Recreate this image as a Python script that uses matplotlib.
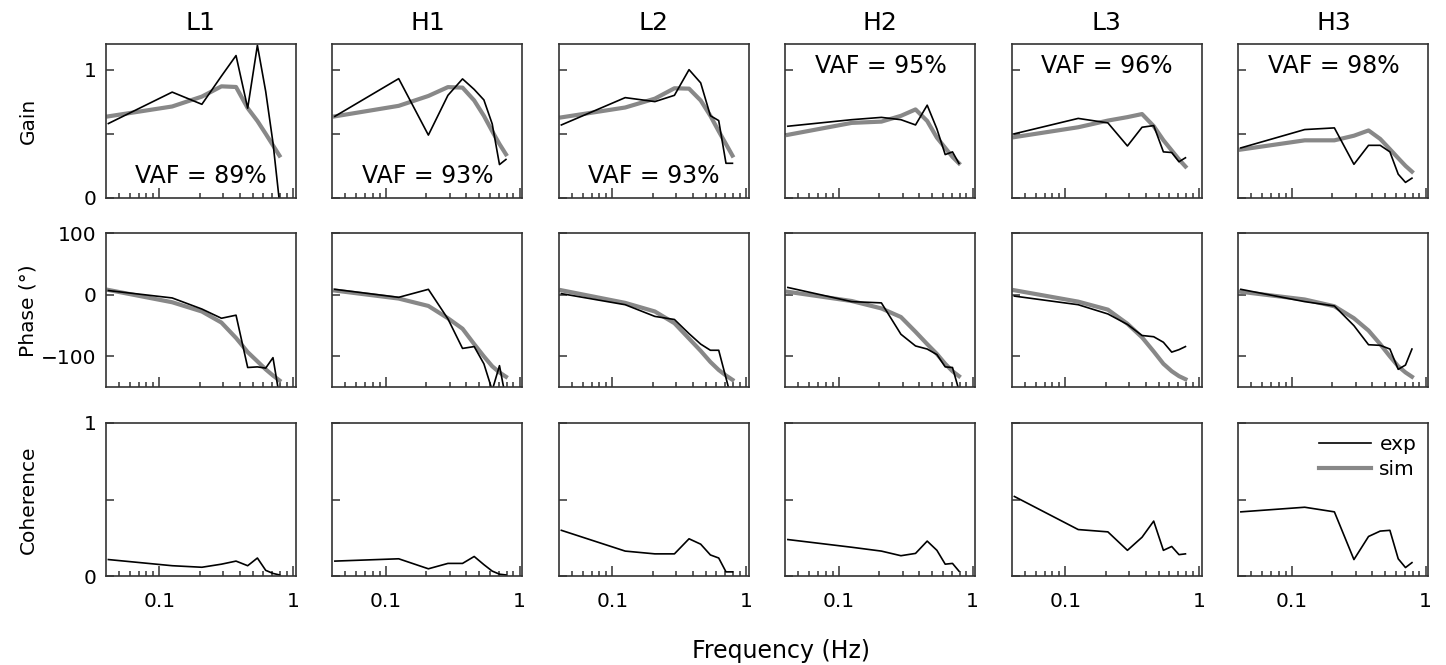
import numpy as np
import matplotlib
matplotlib.use("Agg")
import matplotlib.pyplot as plt
from matplotlib.ticker import FixedLocator, NullFormatter

# frequencies (Hz): odd multiples of 1/24
freq = np.array([1, 3, 5, 7, 9, 11, 13, 15, 17, 19]) / 24.0

conditions = ["L1", "H1", "L2", "H2", "L3", "H3"]
vaf = ["89%", "93%", "93%", "95%", "96%", "98%"]

# gain, exp / sim
gain_exp = {
    "L1": [0.58, 0.825, 0.73, 0.95, 1.11, 0.70, 1.19, 0.83, 0.43, -0.03],
    "H1": [0.636, 0.93, 0.49, 0.80, 0.928, 0.846, 0.764, 0.577, 0.26, 0.30],
    "L2": [0.569, 0.782, 0.751, 0.80, 1.0, 0.897, 0.641, 0.603, 0.27, 0.27],
    "H2": [0.559, 0.61, 0.628, 0.61, 0.569, 0.723, 0.538, 0.338, 0.359, 0.269],
    "L3": [0.50, 0.62, 0.585, 0.405, 0.551, 0.564, 0.359, 0.354, 0.282, 0.313],
    "H3": [0.39, 0.533, 0.546, 0.262, 0.41, 0.41, 0.359, 0.185, 0.121, 0.154],
}
gain_sim = {
    "L1": [0.636, 0.713, 0.79, 0.87, 0.865, 0.70, 0.60, 0.50, 0.41, 0.33],
    "H1": [0.636, 0.718, 0.795, 0.864, 0.86, 0.76, 0.64, 0.52, 0.42, 0.34],
    "L2": [0.628, 0.705, 0.774, 0.855, 0.852, 0.76, 0.64, 0.52, 0.42, 0.33],
    "H2": [0.492, 0.585, 0.595, 0.64, 0.69, 0.60, 0.47, 0.39, 0.32, 0.27],
    "L3": [0.474, 0.551, 0.603, 0.63, 0.654, 0.56, 0.45, 0.37, 0.30, 0.245],
    "H3": [0.377, 0.449, 0.449, 0.485, 0.526, 0.46, 0.38, 0.31, 0.25, 0.205],
}

# phase (deg), exp / sim
phase_exp = {
    "L1": [7, -5, -23, -38, -33, -118, -117, -119, -102, -165],
    "H1": [9, -4, 9, -39, -87, -84, -112, -155, -115, -170],
    "L2": [2, -16, -35, -40, -63, -80, -90, -90, -135, -175],
    "H2": [12, -11, -13, -64, -83, -88, -97, -117, -118, -155],
    "L3": [-2, -16, -31, -48, -66, -68, -77, -93, -89, -84],
    "H3": [9, -11, -18, -50, -81, -82, -88, -121, -114, -88],
}
phase_sim = {
    "L1": [8, -12, -27, -45, -70, -93, -108, -121, -131, -139],
    "H1": [7, -6, -18, -38, -55, -80, -100, -116, -126, -133],
    "L2": [7.5, -13, -27, -46, -71, -91, -109, -122, -131, -138],
    "H2": [5, -10, -22, -36, -60, -80, -96, -112, -124, -132],
    "L3": [7.5, -11, -24, -47, -69, -92, -112, -124, -132, -137],
    "H3": [5, -7.5, -18.5, -38, -58, -80, -100, -116, -126, -133],
}

# coherence, exp only
coh_exp = {
    "L1": [0.11, 0.07, 0.06, 0.08, 0.10, 0.07, 0.12, 0.04, 0.02, 0.01],
    "H1": [0.10, 0.115, 0.05, 0.085, 0.085, 0.13, 0.077, 0.035, 0.015, 0.01],
    "L2": [0.30, 0.165, 0.147, 0.147, 0.245, 0.21, 0.14, 0.12, 0.03, 0.03],
    "H2": [0.24, 0.19, 0.165, 0.135, 0.15, 0.23, 0.17, 0.08, 0.085, 0.035],
    "L3": [0.52, 0.305, 0.29, 0.17, 0.255, 0.36, 0.17, 0.195, 0.142, 0.147],
    "H3": [0.42, 0.45, 0.42, 0.11, 0.26, 0.295, 0.30, 0.115, 0.058, 0.09],
}

row_labels = ["Gain", "Phase (°)", "Coherence"]
ylims = [(0, 1.2), (-150, 100), (0, 1)]
yticks = [[0, 0.5, 1], [-100, 0, 100], [0, 0.5, 1]]
ytick_labels = [["0", "", "1"], ["\u2212100", "0", "100"], ["0", "", "1"]]
xticks = [0.1, 1]
xtick_labels = ["0.1", "1"]
minor_x = [0.05, 0.06, 0.07, 0.08, 0.09, 0.2, 0.3, 0.4, 0.5, 0.6, 0.7, 0.8, 0.9]

exp_color = "black"
sim_color = "#888888"
spine_color = "#333333"

fig, axes = plt.subplots(3, 6, figsize=(14.46, 6.65), dpi=100)
fig.subplots_adjust(left=0.0733, right=0.9878, top=0.9338, bottom=0.1331,
                    wspace=0.193, hspace=0.23)

for c, cond in enumerate(conditions):
    ax0, ax1, ax2 = axes[:, c]
    ax0.plot(freq, gain_sim[cond], color=sim_color, lw=3.0)
    ax0.plot(freq, gain_exp[cond], color=exp_color, lw=1.2)
    ax1.plot(freq, phase_sim[cond], color=sim_color, lw=3.0)
    ax1.plot(freq, phase_exp[cond], color=exp_color, lw=1.2)
    ax2.plot(freq, coh_exp[cond], color=exp_color, lw=1.2, label="exp")
    ax2.plot([], [], color=sim_color, lw=3.0, label="sim")
    ax0.set_title(cond, fontsize=18, pad=10)
    if c < 3:
        ax0.text(0.5, 0.065, "VAF = " + vaf[c], transform=ax0.transAxes,
                 ha="center", va="bottom", fontsize=17)
    else:
        ax0.text(0.5, 0.935, "VAF = " + vaf[c], transform=ax0.transAxes,
                 ha="center", va="top", fontsize=17)

for r in range(3):
    for c in range(6):
        ax = axes[r, c]
        ax.set_xscale("log")
        ax.set_xlim(0.04, 1.05)
        ax.set_ylim(*ylims[r])
        ax.xaxis.set_major_locator(FixedLocator(xticks))
        ax.xaxis.set_minor_locator(FixedLocator(minor_x))
        ax.xaxis.set_minor_formatter(NullFormatter())
        ax.set_yticks(yticks[r])
        ax.tick_params(axis="x", which="major", direction="in", length=7,
                       width=1.1, pad=11, labelsize=14.5, color=spine_color)
        ax.tick_params(axis="x", which="minor", direction="in", length=3.8,
                       width=1.1, color=spine_color)
        ax.tick_params(axis="y", which="major", direction="in", length=5.5,
                       width=1.1, pad=7, labelsize=14.5, color=spine_color)
        ax.tick_params(axis="y", which="minor", left=False)
        for s in ax.spines.values():
            s.set_color(spine_color)
            s.set_linewidth(1.2)
        if r == 2:
            ax.set_xticklabels(xtick_labels)
        else:
            ax.set_xticklabels([])
        if c == 0:
            ax.set_yticklabels(ytick_labels[r])
            ax.set_ylabel(row_labels[r], fontsize=14.5)
            ax.yaxis.set_label_coords(-0.36, 0.5)
        else:
            ax.set_yticklabels([])

axes[2, 5].legend(loc="upper right", frameon=False, fontsize=14.5,
                  handlelength=2.6, handletextpad=0.4, labelspacing=0.3,
                  borderaxespad=0.2)

fig.text(0.54, 0.021, "Frequency (Hz)", ha="center", va="center", fontsize=17)

fig.savefig("out.png", dpi=100)
